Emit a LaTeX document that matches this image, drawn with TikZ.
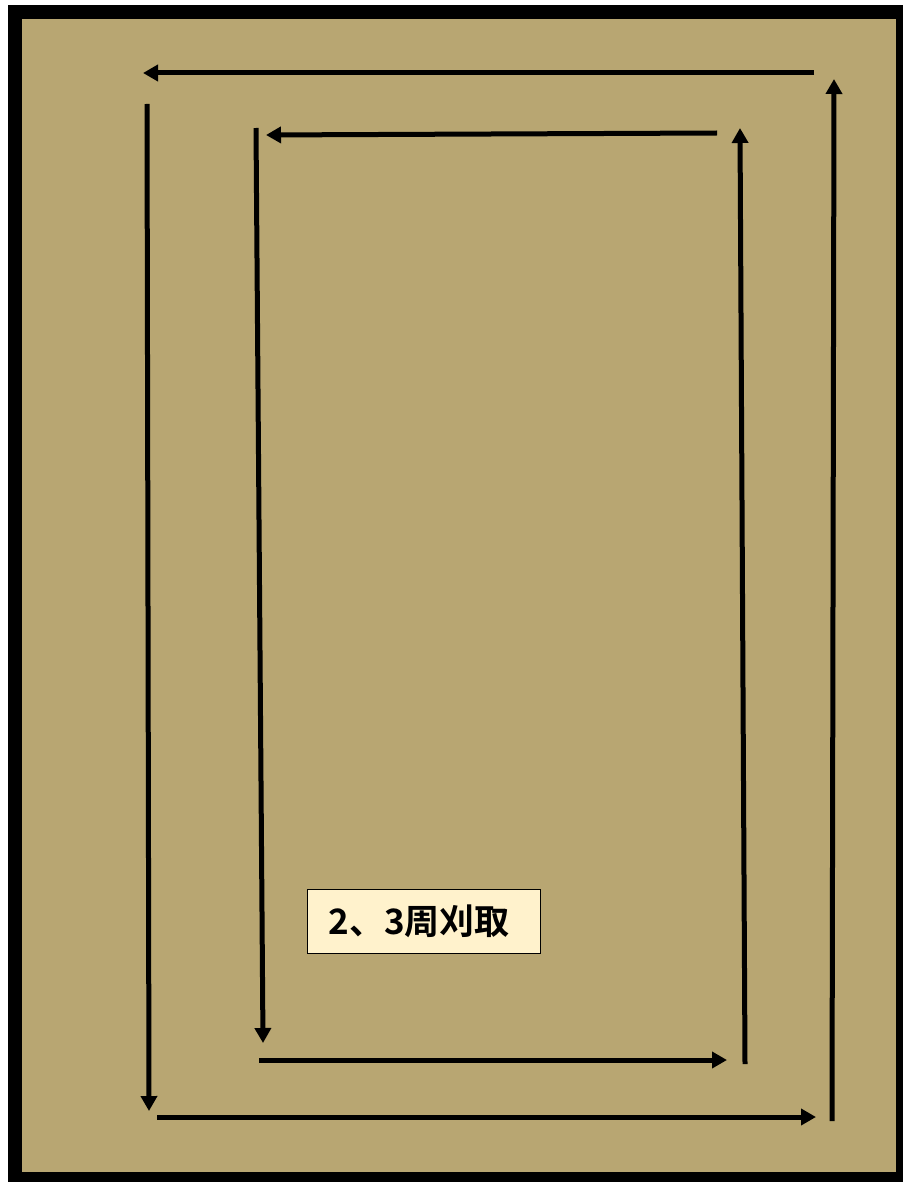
\documentclass[tikz,border=0pt]{standalone}
\usepackage{fontspec}
\newfontfamily\cjk{Noto Sans CJK JP}[BoldFont=* Bold]
\usetikzlibrary{arrows.meta}
\definecolor{field}{RGB}{184,166,114}
\definecolor{labelfill}{RGB}{255,242,204}
\tikzset{
  path/.style={line width=5pt, draw=black, -{Triangle[length=15pt,width=16pt]}},
  labelbox/.style={draw=black, line width=1pt, fill=labelfill, minimum width=233pt, minimum height=64pt, inner sep=0pt, font=\cjk\bfseries\fontsize{35pt}{35pt}\selectfont}
}
\begin{document}
\begin{tikzpicture}[x=1pt,y=-1pt]
\useasboundingbox (0,0) rectangle (902,1182);
\fill[white] (0,0) rectangle (902,1182);
\fill[black] (8,5) rectangle (912,1190);
\fill[field] (22,19) rectangle (896,1172);
% outer loop
\coordinate (o1s) at (814,73);  \coordinate (o1e) at (143,73);
\coordinate (o2s) at (147,104); \coordinate (o2e) at (149,1111);
\coordinate (o3s) at (157,1117);\coordinate (o3e) at (816,1117);
\coordinate (o4s) at (832,1121);\coordinate (o4e) at (834,79);
% inner loop
\coordinate (i1s) at (717,133); \coordinate (i1e) at (266,135);
\coordinate (i2s) at (256,128); \coordinate (i2e) at (263,1043);
\coordinate (i3s) at (259,1060);\coordinate (i3e) at (727,1060);
\coordinate (i4s) at (745,1064);\coordinate (i4e) at (740,128);
\draw[path] (o1s) -- (o1e);
\draw[path] (o2s) -- (o2e);
\draw[path] (o3s) -- (o3e);
\draw[path] (o4s) -- (o4e);
\draw[path] (i1s) -- (i1e);
\draw[path] (i2s) -- (i2e);
\draw[path] (i3s) -- (i3e);
\draw[path] (i4s) -- (i4e);
\node[labelbox] (lbl) at (423.5,921) {\raisebox{-1pt}{2、3周刈取}\hspace*{9pt}};
\end{tikzpicture}
\end{document}
